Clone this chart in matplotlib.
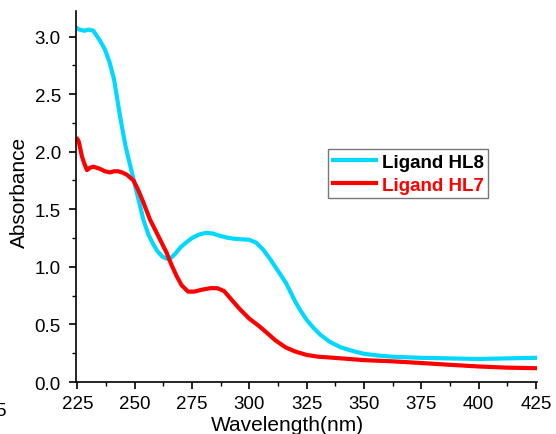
import matplotlib
matplotlib.use("Agg")
import matplotlib.pyplot as plt
from matplotlib.ticker import MultipleLocator

plt.rcParams['font.family'] = ['Liberation Sans', 'DejaVu Sans']

# UV-Vis absorption spectra
wl_hl8 = [225, 226, 228, 230, 232, 235, 237, 239, 241, 243.7, 246, 249.5, 251.5, 253.8,
          256, 258, 259.8, 262, 264, 266, 268, 270, 273, 275, 278, 281, 284, 287, 290,
          293, 296, 300, 303, 306, 309, 312, 314, 316, 318, 320, 322, 325, 328, 331, 335,
          340, 345, 350, 356, 362, 375, 387, 400, 412, 425]
abs_hl8 = [3.07, 3.06, 3.05, 3.06, 3.05, 2.96, 2.89, 2.78, 2.63, 2.3, 2.05, 1.76, 1.6, 1.41,
           1.28, 1.2, 1.14, 1.09, 1.07, 1.08, 1.12, 1.17, 1.22, 1.25, 1.28, 1.295, 1.29, 1.27, 1.255,
           1.245, 1.24, 1.235, 1.21, 1.15, 1.07, 0.98, 0.92, 0.86, 0.78, 0.70, 0.63, 0.54, 0.47,
           0.41, 0.35, 0.30, 0.27, 0.245, 0.23, 0.22, 0.21, 0.205, 0.2, 0.205, 0.21]

wl_hl7 = [225, 225.6, 227, 228, 229.2, 230.5, 232, 235, 237, 239.3, 241, 242.8, 244.5, 246.6,
          249.5, 251.5, 253.8, 256.7, 260, 264, 266, 268.3, 270.5, 273.3, 276, 279, 283, 286,
          289, 292.9, 296, 300, 304, 307.5, 311.5, 315.9, 320, 325, 330, 337, 350, 362, 375,
          387, 400, 412, 425]
abs_hl7 = [2.11, 2.09, 1.96, 1.9, 1.84, 1.86, 1.87, 1.85, 1.83, 1.82, 1.83, 1.83, 1.82, 1.8,
           1.75, 1.67, 1.56, 1.41, 1.28, 1.12, 1.02, 0.92, 0.84, 0.785, 0.785, 0.8, 0.815, 0.815,
           0.79, 0.7, 0.63, 0.55, 0.49, 0.43, 0.36, 0.3, 0.265, 0.235, 0.22, 0.21, 0.19, 0.18, 0.165,
           0.15, 0.135, 0.125, 0.12]

x_ticks = [225, 250, 275, 300, 325, 350, 375, 400, 425]
y_ticks = [0.0, 0.5, 1.0, 1.5, 2.0, 2.5, 3.0]

fig = plt.figure(figsize=(5.56, 4.35), dpi=100)
ax = fig.add_axes([0.137, 0.1195, 0.829, 0.8525])

ax.plot(wl_hl8, abs_hl8, color='#00D8FF', lw=3.0, label='Ligand HL8', solid_joinstyle='round')
ax.plot(wl_hl7, abs_hl7, color='#FF0000', lw=3.0, label='Ligand HL7', solid_joinstyle='round')

ax.set_xlim(224.5, 425.5)
ax.set_ylim(0, 3.22)
ax.set_xticks(x_ticks)
ax.set_yticks(y_ticks)
ax.set_yticklabels([f"{v:.1f}" for v in y_ticks])
ax.xaxis.set_minor_locator(MultipleLocator(12.5))
ax.yaxis.set_minor_locator(MultipleLocator(0.25))
ax.tick_params(which='major', direction='out', length=5, width=1.2, labelsize=13.5)
ax.tick_params(axis='x', which='major', pad=4)
ax.tick_params(axis='y', which='major', pad=6)
ax.tick_params(which='minor', direction='out', length=3, width=1.0)

for side in ('top', 'right'):
    ax.spines[side].set_visible(False)
for side in ('left', 'bottom'):
    ax.spines[side].set_linewidth(1.2)

ax.set_xlabel('Wavelength(nm)', fontsize=15)
ax.xaxis.set_label_coords(0.458, -0.09, transform=ax.transAxes)
ax.xaxis.label.set_va('top')
ax.set_ylabel('Absorbance', fontsize=15)
ax.yaxis.set_label_coords(-0.103, 0.515, transform=ax.transAxes)

leg = ax.legend(loc='upper right', bbox_to_anchor=(0.894, 0.628),
                prop={'weight': 'bold', 'size': 13.5}, frameon=True, fancybox=False,
                handlelength=2.3, handletextpad=0.3, borderpad=0.25, labelspacing=0.3,
                borderaxespad=0)
leg.get_frame().set_edgecolor('#555555')
leg.get_frame().set_linewidth(1.0)
for txt, col in zip(leg.get_texts(), ['black', '#FF0000']):
    txt.set_color(col)

fig.text(-0.008, 0.055, '5', fontsize=13.5, ha='left', va='center')

fig.savefig('out.png', dpi=100)
